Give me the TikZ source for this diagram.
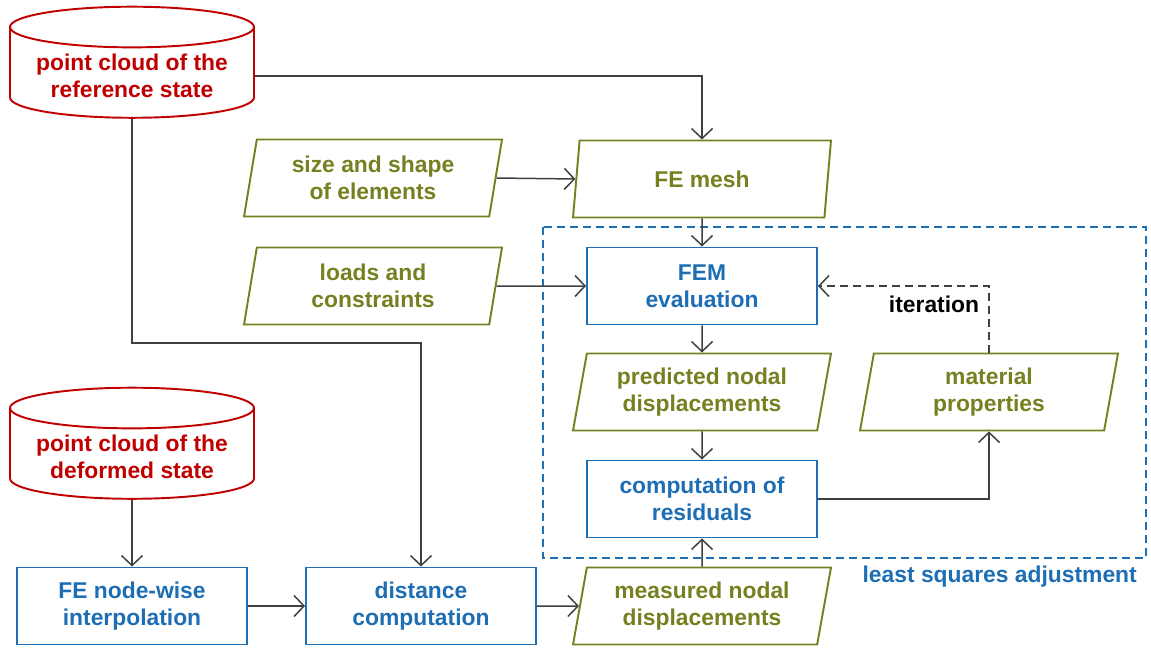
\documentclass[tikz,border=0pt]{standalone}
\usepackage{fontspec}
\setmainfont{Liberation Sans}
\usetikzlibrary{shapes.geometric,arrows.meta}
\definecolor{cloudred}{RGB}{192,0,0}
\definecolor{dataolive}{RGB}{118,128,32}
\definecolor{procblue}{RGB}{30,110,180}
\definecolor{linegray}{RGB}{64,64,64}

\begin{document}
\begin{tikzpicture}[x=0.02cm, y=-0.02cm,
	every node/.style={font=\bfseries\fontsize{13}{15.3}\selectfont, align=center},
	pointcloud/.style={cylinder, shape border rotate=90, aspect=0.2, draw=cloudred,
		text=cloudred, line width=1.1pt, minimum width=4.88cm, minimum height=2.2cm},
	datapara/.style={trapezium, trapezium left angle=77, trapezium right angle=103,
		trapezium stretches body, draw=dataolive, text=dataolive, line width=1.1pt,
		minimum width=5.16cm, minimum height=1.54cm},
	procbox/.style={rectangle, draw=procblue, text=procblue, line width=1.1pt,
		minimum width=4.6cm, minimum height=1.54cm},
	flow/.style={draw=linegray, line width=0.85pt,
		-{Straight Barb[length=0.2cm, width=0.42cm]}},
	lsqframe/.style={draw=procblue, line width=1.1pt, dash pattern=on 0.16cm off 0.1cm}]
	\useasboundingbox (0,0) rectangle (1151,649);

	% Punktwolken
	\node[pointcloud] (refcloud) at (132,76) {point cloud of the\\reference state};
	\node[pointcloud] (defcloud) at (132,457) {point cloud of the\\deformed state};

	% Eingangsdaten
	\node[datapara] (shape) at (373,178) {size and shape\\of elements};
	\node[datapara] (loads) at (373,286) {loads and\\constraints};
	\node[datapara] (mesh) at (702,179) {FE mesh};

	% Ausgleichung
	\draw[lsqframe] (543,227) rectangle (1146,558);
	\node[procbox] (fem) at (702,286) {FEM\\evaluation};
	\node[datapara] (predicted) at (702,392) {predicted nodal\\displacements};
	\node[datapara] (material) at (989,392) {material\\properties};
	\node[procbox] (residuals) at (702,499) {computation of\\residuals};
	\node (iterlabel) at (934,304) {iteration};
	\node[text=procblue, anchor=east] (lsqlabel) at (1143,577) {least squares adjustment};

	% Messung
	\node[procbox] (interp) at (132,606) {FE node-wise\\interpolation};
	\node[procbox] (distance) at (421,606) {distance\\computation};
	\node[datapara] (measured) at (702,606) {measured nodal\\displacements};

	% Verbindungen
	\draw[flow] (refcloud.east) -| (mesh.north);
	\draw[flow] (refcloud.south) |- (256,343) -| (distance.north);
	\draw[flow] (shape.east) -- (mesh.west);
	\draw[flow] (loads.east) -- (fem.west);
	\draw[flow] (mesh) -- (fem);
	\draw[flow] (fem) -- (predicted);
	\draw[flow] (predicted) -- (residuals);
	\draw[flow] (residuals.east) -| (material.south);
	\draw[flow, dash pattern=on 0.16cm off 0.1cm] (material.north) |- (fem.east);
	\draw[flow] (measured) -- (residuals);
	\draw[flow] (defcloud.south) -- (interp.north);
	\draw[flow] (interp) -- (distance);
	\draw[flow] (distance.east) -- (measured.west);
\end{tikzpicture}
\end{document}
